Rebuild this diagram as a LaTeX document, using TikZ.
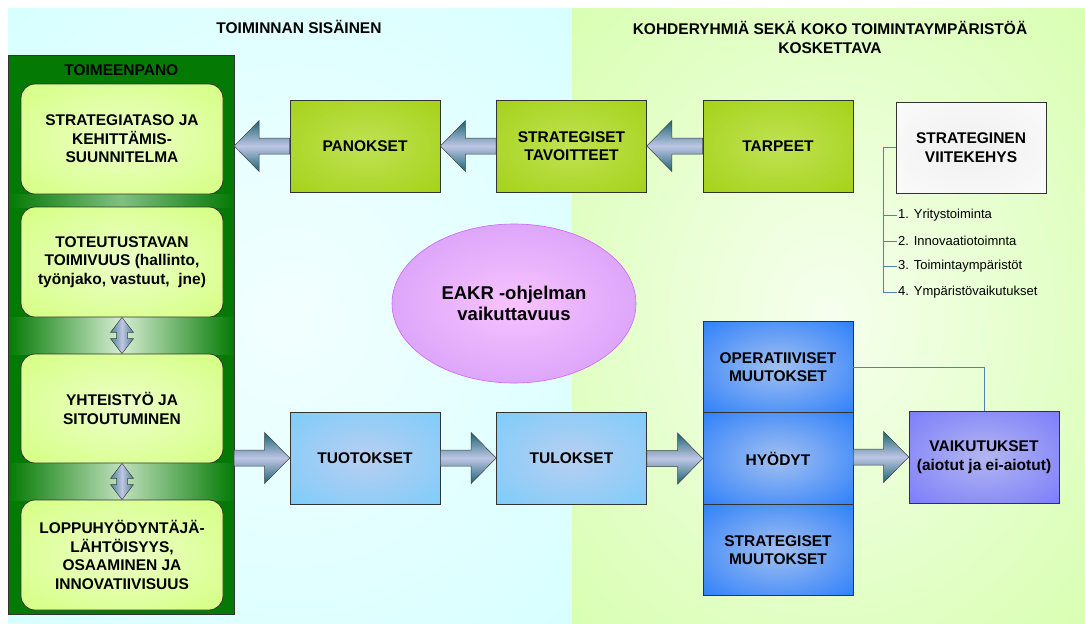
\documentclass[tikz,border=0pt]{standalone}
\usepackage{fontspec}
\setmainfont{Liberation Sans}
\usepackage{tikz}
\usetikzlibrary{calc,shapes.geometric}

\definecolor{cyanbg}{RGB}{204,255,255}
\definecolor{cyanin}{RGB}{242,255,255}
\definecolor{greenbg}{RGB}{204,255,153}
\definecolor{greenin}{RGB}{246,255,238}
\definecolor{panelgreen}{RGB}{4,122,4}
\definecolor{gapone}{RGB}{128,192,128}
\definecolor{gaptwo}{RGB}{214,237,210}
\definecolor{gapthree}{RGB}{192,224,188}
\definecolor{limebox}{RGB}{204,255,102}
\definecolor{limein}{RGB}{236,255,200}
\definecolor{olivebox}{RGB}{153,204,0}
\definecolor{olivein}{RGB}{192,226,84}
\definecolor{skybox}{RGB}{102,204,255}
\definecolor{skyin}{RGB}{184,206,240}
\definecolor{royalbox}{RGB}{0,102,255}
\definecolor{royalin}{RGB}{162,192,240}
\definecolor{violetbox}{RGB}{102,102,255}
\definecolor{violetin}{RGB}{178,182,240}
\definecolor{ellfill}{RGB}{196,136,245}
\definecolor{ellin}{RGB}{248,196,255}
\definecolor{ellline}{RGB}{204,102,255}
\definecolor{arrowdark}{RGB}{28,100,115}
\definecolor{arrowlight}{RGB}{190,198,228}
\definecolor{treeblue}{RGB}{79,129,189}

\colorlet{glowin}{white}
\colorlet{glowout}{white}
\pgfdeclareradialshading[glowin,glowout]{softglow}{\pgfpoint{0bp}{0bp}}{color(0bp)=(glowin); color(50bp)=(glowout)}

\newcommand{\boxfont}{\fontsize{15.5}{18.5}\selectfont\bfseries}
% block arrow from tail anchor #1 to tip anchor #2
\newcommand{\flowarrow}[2]{%
  \path[blockarrow] let \p1=(#1), \p2=(#2), \n1={sign(\x2-\x1)} in
    ({\x1},{\y2+8pt}) -- ({\x2-(\n1)*25pt},{\y2+8pt}) -- ({\x2-(\n1)*25pt},{\y2+25.5pt})
    -- (\x2,\y2) -- ({\x2-(\n1)*25pt},{\y2-25.5pt}) -- ({\x2-(\n1)*25pt},{\y2-8pt})
    -- ({\x1},{\y2-8pt}) -- cycle;}
% double headed arrow between upper anchor #1 and lower anchor #2
\newcommand{\pairarrow}[2]{%
  \path[twinarrow] let \p1=(#1), \p2=(#2) in
    (\x1,\y1) -- ({\x1+11.5pt},{\y1-15pt}) -- ({\x1+5.5pt},{\y1-15pt})
    -- ({\x1+5.5pt},{\y2+15pt}) -- ({\x1+11.5pt},{\y2+15pt}) -- (\x1,\y2)
    -- ({\x1-11.5pt},{\y2+15pt}) -- ({\x1-5.5pt},{\y2+15pt})
    -- ({\x1-5.5pt},{\y1-15pt}) -- ({\x1-11.5pt},{\y1-15pt}) -- cycle;}

\tikzset{
  glowfill/.style 2 args={/utils/exec={\colorlet{glowin}{#1}\colorlet{glowout}{#2}}, shade, shading=softglow},
  heading/.style={align=center, font=\boxfont, inner sep=0pt},
  stagebox/.style={draw=black!80, line width=0.7pt, minimum width=150pt, minimum height=92pt, align=center, font=\boxfont, inner sep=2pt},
  inputbox/.style={stagebox, glowfill={olivein}{olivebox}},
  outputbox/.style={stagebox, glowfill={skyin}{skybox}},
  changebox/.style={stagebox, glowfill={royalin}{royalbox}, minimum height=91.5pt},
  planbox/.style={draw=black!80, line width=0.8pt, rounded corners=14pt, glowfill={limein}{limebox}, minimum width=202pt, minimum height=110pt, align=center, font=\boxfont, inner sep=2pt},
  gapglow/.style={left color=panelgreen, right color=panelgreen, middle color=#1},
  blockarrow/.style={draw=black!75, line width=0.5pt, top color=arrowdark, bottom color=arrowdark, middle color=arrowlight},
  twinarrow/.style={draw=black!75, line width=0.5pt, left color=arrowdark!80, right color=arrowdark!80, middle color=arrowlight},
  listitem/.style={anchor=west, inner sep=1.5pt, font=\fontsize{13}{15}\selectfont},
  tree/.style={draw=treeblue, line width=0.9pt}
}

\begin{document}
\begin{tikzpicture}[x=1pt,y=-1pt]
  % two backgrounds: internal (left) and target groups (right)
  \useasboundingbox (0,0) rectangle (1085,624);
  \path[glowfill={cyanin}{cyanbg}] (8.6,8) rectangle (572,624);
  \path[glowfill={greenin}{greenbg}] (572,8) rectangle (1085,624);
  \node[heading] (tsis) at (299,27) {TOIMINNAN SISÄINEN};
  \node[heading] (tkoh) at (830,37.5) {KOHDERYHMIÄ SEKÄ KOKO TOIMINTAYMPÄRISTÖÄ\\KOSKETTAVA};

  \node[fill=panelgreen, minimum width=225.4pt, minimum height=558pt, inner sep=0pt] (panel) at (121.3,335) {};
  \node[heading] (ptitle) at (121.3,70) {TOIMEENPANO};
  \path[gapglow=gapone] (panel.west |- 0,194) rectangle (panel.east |- 0,207);
  \path[gapglow=gaptwo] (panel.west |- 0,317) rectangle (panel.east |- 0,354);
  \path[gapglow=gapthree] (panel.west |- 0,463) rectangle (panel.east |- 0,500);
  \draw[black!80, line width=0.8pt] (panel.north west) rectangle (panel.south east);
  \node[planbox] (strat) at (122,139) {STRATEGIATASO JA\\KEHITTÄMIS-\\SUUNNITELMA};
  \node[planbox] (toteu) at (122,262) {TOTEUTUSTAVAN\\TOIMIVUUS (hallinto,\\työnjako, vastuut,~ jne)};
  \node[planbox, minimum height=109pt] (yhteis) at (122,408.5) {YHTEISTYÖ JA\\SITOUTUMINEN};
  \node[planbox] (loppu) at (122,555) {LOPPUHYÖDYNTÄJÄ-\\LÄHTÖISYYS,\\OSAAMINEN JA\\INNOVATIIVISUUS};
  \pairarrow{toteu.south}{yhteis.north}
  \pairarrow{yhteis.south}{loppu.north}

  \node[inputbox] (panok) at (365,146) {PANOKSET};
  \node[inputbox] (tavoit) at (571.5,146) {STRATEGISET\\TAVOITTEET};
  \node[inputbox] (tarpeet) at (778,146) {TARPEET};
  \node[stagebox, glowfill={gray!12}{white}, minimum height=91pt] (viite) at (971,147.5) {STRATEGINEN\\VIITEKEHYS};
  \flowarrow{panok.west}{panel.east |- panok.west}
  \flowarrow{tavoit.west}{panok.east}
  \flowarrow{tarpeet.west}{tavoit.east}

  \node[listitem] (it1) at (896.5,215) {1. Yritystoiminta};
  \node[listitem] (it2) at (896.5,241) {2. Innovaatiotoimnta};
  \node[listitem] (it3) at (896.5,266) {3. Toimintaympäristöt};
  \node[listitem] (it4) at (896.5,292) {4. Ympäristövaikutukset};
  \coordinate (trunk) at (883,147.5);
  \draw[tree] (viite.west) -- (trunk) |- (it4.west);
  \foreach \i in {1,2,3}
    \draw[tree] (trunk |- it\i.west) -- (it\i.west);

  \node[ellipse, draw=ellline, line width=0.6pt, glowfill={ellin}{ellfill}, minimum width=244pt, minimum height=159pt, align=center, font=\fontsize{18.5}{21}\selectfont\bfseries] (eakr) at (514,303.5) {EAKR -ohjelman\\vaikuttavuus};

  \node[outputbox] (tuot) at (365,458) {TUOTOKSET};
  \node[outputbox] (tul) at (571.5,458) {TULOKSET};
  \node[changebox] (oper) at (778,367) {OPERATIIVISET\\MUUTOKSET};
  \node[changebox] (hyod) at (778,458.5) {HYÖDYT};
  \node[changebox] (smuut) at (778,550) {STRATEGISET\\MUUTOKSET};
  \node[stagebox, glowfill={violetin}{violetbox}] (vaik) at (984,457) {VAIKUTUKSET\\(aiotut ja ei-aiotut)};
  \draw[tree] (oper.east) -| (vaik.north);
  \flowarrow{panel.east |- tuot.west}{tuot.west}
  \flowarrow{tuot.east}{tul.west}
  \flowarrow{tul.east}{hyod.west}
  \flowarrow{hyod.east}{vaik.west}
\end{tikzpicture}
\end{document}
